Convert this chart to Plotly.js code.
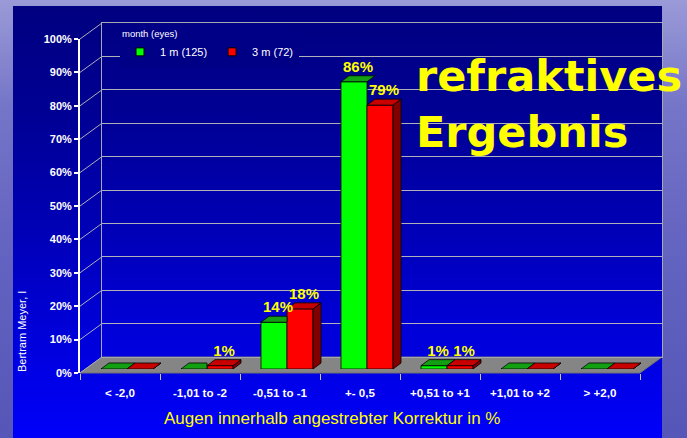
<!DOCTYPE html>
<html>
<head>
<meta charset="utf-8">
<script src="https://cdn.plot.ly/plotly-3.0.1.min.js"></script>
<style>
  html, body { margin: 0; padding: 0; }
  body { width: 687px; height: 438px; overflow: hidden; position: relative;
    background: linear-gradient(180deg, #9a9ad8 0%, #7474c8 25%, #6262c0 60%, #5656b8 100%); }
  #panel { position: absolute; left: 13px; top: 6px; width: 649px; height: 432px;
    background: linear-gradient(180deg, #000080 0%, #000094 25%, #0000b4 50%, #0000d8 75%, #0000fa 100%); }
  #chart { position: absolute; left: 0; top: 0; width: 687px; height: 438px; }
</style>
</head>
<body>
<div id="panel"></div>
<div id="chart"></div>
<script>
// ---- data ----
const categories = ["< -2,0", "-1,01 to -2", "-0,51 to -1", "+- 0,5", "+0,51 to +1", "+1,01 to +2", "> +2,0"];
const seriesNames = ["1 m (125)", "3 m (72)"];
const oneMonth = [0, 0, 14, 86, 1, 0, 0];
const threeMonth = [0, 1, 18, 79, 1, 0, 0];
const yTicks = [0, 10, 20, 30, 40, 50, 60, 70, 80, 90, 100];

// ---- geometry (pixels) ----
const W = 687, H = 438;
const front = { x0: 80, x1: 640, y0: 373, y1: 39 };
const back  = { x0: 102, x1: 662, y0: 357, y1: 23 };
const bars  = { x0: 87, x1: 647, y0: 369, y1: 35 };
const px = v => v / W, py = v => 1 - v / H;

const BW = 0.325;           // bar width in category units
const DX = 0.1;             // depth offset x (category units)
const DY = 1.8;             // depth offset y (value units)

const idx = categories.map((c, i) => i);

// 3D faces
const gTopX = [], gTopY = [], rTopX = [], rTopY = [], rSideX = [], rSideY = [];
idx.forEach(i => {
  const g = oneMonth[i], r = threeMonth[i];
  if (r > g) {
    gTopX.push(i - BW, i, i, i - BW + DX, i - BW, null);
    gTopY.push(g, g, g + DY, g + DY, g, null);
  } else {
    gTopX.push(i - BW, i, i + DX, i - BW + DX, i - BW, null);
    gTopY.push(g, g, g + DY, g + DY, g, null);
  }
  rTopX.push(i, i + BW, i + BW + DX, i + DX, i, null);
  rTopY.push(r, r, r + DY, r + DY, r, null);
  rSideX.push(i + BW, i + BW + DX, i + BW + DX, i + BW, i + BW, null);
  rSideY.push(0, DY, r + DY, r, 0, null);
});

const edge = { color: '#000000', width: 0.8 };
const labelFont = { family: 'Liberation Sans, Arial, sans-serif', size: 15, color: '#ffff00', weight: 'bold' };

const traces = [
  { type: 'bar', x: idx, y: oneMonth, width: BW, offset: -BW, xaxis: 'x3', yaxis: 'y3',
    marker: { color: '#00ff00', line: edge }, showlegend: false, hoverinfo: 'skip' },
  { type: 'bar', x: idx, y: threeMonth, width: BW, offset: 0, xaxis: 'x3', yaxis: 'y3',
    marker: { color: '#ff0000', line: edge }, showlegend: false, hoverinfo: 'skip' },
  { type: 'scatter', x: gTopX, y: gTopY, xaxis: 'x3', yaxis: 'y3', mode: 'lines', fill: 'toself',
    fillcolor: '#12a012', line: edge, showlegend: false, hoverinfo: 'skip' },
  { type: 'scatter', x: rSideX, y: rSideY, xaxis: 'x3', yaxis: 'y3', mode: 'lines', fill: 'toself',
    fillcolor: '#800000', line: edge, showlegend: false, hoverinfo: 'skip' },
  { type: 'scatter', x: rTopX, y: rTopY, xaxis: 'x3', yaxis: 'y3', mode: 'lines', fill: 'toself',
    fillcolor: '#c80000', line: edge, showlegend: false, hoverinfo: 'skip' },
  { type: 'scatter', x: idx.map(i => i - BW / 2 + DX / 2), y: oneMonth.map(v => v + DY),
    text: oneMonth.map(v => v > 0 ? v + '%' : ''), mode: 'text', textposition: 'top center',
    textfont: labelFont, xaxis: 'x3', yaxis: 'y3', showlegend: false, hoverinfo: 'skip', cliponaxis: false },
  { type: 'scatter', x: idx.map(i => i + BW / 2 + DX / 2), y: threeMonth.map(v => v + DY),
    text: threeMonth.map(v => v > 0 ? v + '%' : ''), mode: 'text', textposition: 'top center',
    textfont: labelFont, xaxis: 'x3', yaxis: 'y3', showlegend: false, hoverinfo: 'skip', cliponaxis: false },
  // legend entries
  { type: 'scatter', x: [null], y: [null], mode: 'markers', name: seriesNames[0],
    marker: { symbol: 'square', size: 8, color: '#00ff00', line: { color: '#000', width: 1 } } },
  { type: 'scatter', x: [null], y: [null], mode: 'markers', name: seriesNames[1],
    marker: { symbol: 'square', size: 8, color: '#ff0000', line: { color: '#000', width: 1 } } },
  // back wall subplot anchor
  { type: 'scatter', x: [null], y: [null], xaxis: 'x2', yaxis: 'y2', showlegend: false, hoverinfo: 'skip' }
];

// decorations: floor and side-wall connectors
const shapes = [];
shapes.push({ type: 'path', xref: 'paper', yref: 'paper', layer: 'below',
  path: `M ${px(front.x0)} ${py(front.y0)} L ${px(front.x1)} ${py(front.y0)} L ${px(back.x1)} ${py(back.y0)} L ${px(back.x0)} ${py(back.y0)} Z`,
  fillcolor: '#858585', line: { color: '#707070', width: 1 } });
yTicks.forEach(t => {
  const yf = front.y0 + (front.y1 - front.y0) * t / 100;
  const yb = back.y0 + (back.y1 - back.y0) * t / 100;
  shapes.push({ type: 'line', xref: 'paper', yref: 'paper', layer: 'below',
    x0: px(front.x0), y0: py(yf), x1: px(back.x0), y1: py(yb),
    line: { color: '#b0b0b8', width: 1 } });
});

const tickFont = { family: 'Liberation Sans, Arial, sans-serif', size: 11, color: '#ffffff', weight: 'bold' };
const catFont = { family: 'Liberation Sans, Arial, sans-serif', size: 11.6, color: '#ffffff', weight: 'bold' };

const layout = {
  width: W, height: H,
  margin: { l: 0, r: 0, t: 0, b: 0 },
  paper_bgcolor: 'rgba(0,0,0,0)', plot_bgcolor: 'rgba(0,0,0,0)',
  font: { family: 'Liberation Sans, Arial, sans-serif', color: '#ffffff' },
  showlegend: true,
  xaxis: { domain: [px(front.x0), px(front.x1)], range: [-0.5, 6.5], anchor: 'y',
    tickmode: 'array', tickvals: idx, ticktext: categories, ticks: '', tickfont: catFont,
    showgrid: false, zeroline: false, showline: false, fixedrange: true, ticklabelstandoff: 11,
    minor: { tickmode: 'array', tickvals: idx.map(i => i - 0.5).concat([6.5]), ticks: 'outside',
      ticklen: 6, tickcolor: '#c8c8c8', tickwidth: 1, showgrid: false } },
  yaxis: { domain: [py(front.y0), py(front.y1)], range: [0, 100], anchor: 'x',
    tickmode: 'array', tickvals: yTicks, ticktext: yTicks.map(t => t + '%'), ticks: 'outside',
    ticklen: 4, tickwidth: 2, tickcolor: '#ffffff', tickfont: tickFont,
    showline: true, linecolor: '#ffffff', linewidth: 2, showgrid: false, zeroline: false, fixedrange: true },
  xaxis2: { domain: [px(back.x0), px(back.x1)], range: [0, 1], anchor: 'y2',
    showgrid: false, zeroline: false, showticklabels: false, ticks: '',
    showline: true, mirror: true, linecolor: '#a8a8b0', linewidth: 1, fixedrange: true },
  yaxis2: { domain: [py(back.y0), py(back.y1)], range: [0, 100], anchor: 'x2',
    tickmode: 'array', tickvals: yTicks, showgrid: true, gridcolor: '#b0b0b8', gridwidth: 1,
    zeroline: false, showticklabels: false, ticks: '',
    showline: true, mirror: true, linecolor: '#a8a8b0', linewidth: 1, fixedrange: true },
  xaxis3: { domain: [px(bars.x0), px(bars.x1)], range: [-0.5, 6.5], anchor: 'y3', visible: false, fixedrange: true },
  yaxis3: { domain: [py(bars.y0), py(bars.y1)], range: [0, 100], anchor: 'x3', visible: false, fixedrange: true },
  legend: { orientation: 'h', x: px(120), y: py(25), xanchor: 'left', yanchor: 'top',
    bgcolor: '#000086', borderwidth: 0, tracegroupgap: 0,
    font: { family: 'Liberation Sans, Arial, sans-serif', size: 11, color: '#ffffff' },
    title: { text: 'month (eyes)', side: 'top', font: { size: 9.5, color: '#ffffff' } } },
  shapes: shapes,
  annotations: [
    { text: 'refraktives<br>Ergebnis', xref: 'paper', yref: 'paper', x: px(414), y: py(104),
      xanchor: 'left', yanchor: 'middle', align: 'left', showarrow: false,
      font: { family: 'DejaVu Sans, Verdana, sans-serif', size: 43, color: '#ffff00', weight: 'bold' } },
    { text: 'Augen innerhalb angestrebter Korrektur in %', xref: 'paper', yref: 'paper',
      x: px(332), y: py(418), xanchor: 'center', yanchor: 'middle', showarrow: false,
      font: { family: 'Liberation Sans, Arial, sans-serif', size: 17, color: '#ffff00' } },
    { text: 'Bertram Meyer, I', xref: 'paper', yref: 'paper', x: px(22), y: py(332),
      xanchor: 'center', yanchor: 'middle', textangle: -90, showarrow: false,
      font: { family: 'Liberation Sans, Arial, sans-serif', size: 11, color: '#ffffff' } }
  ]
};

Plotly.newPlot('chart', traces, layout, { staticPlot: true, displayModeBar: false });
</script>
</body>
</html>
